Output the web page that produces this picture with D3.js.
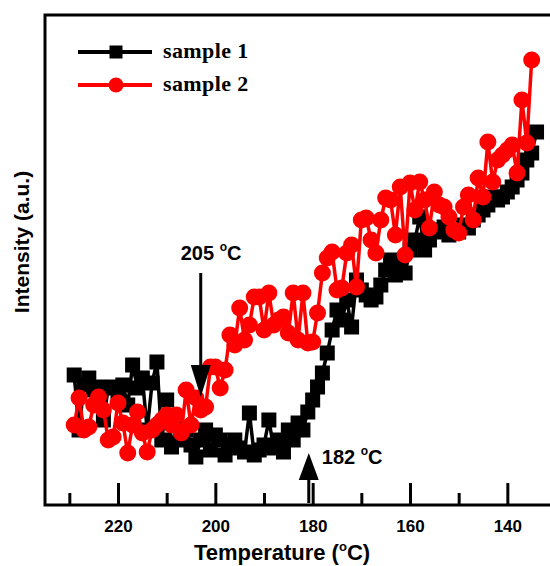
<!DOCTYPE html>
<html>
<head>
<meta charset="utf-8">
<script src="https://cdn.jsdelivr.net/npm/d3@7"></script>
<style>
body { margin: 0; background: #fff; }
text { font-family: Arial, "Liberation Sans", sans-serif; font-weight: bold; }
</style>
</head>
<body>
<script>
var width = 550,
    height = 566;

// temperature of each reading (deg C)
var temperature = [229, 228, 227, 226, 225, 224, 223, 222, 221, 220,
    219, 218, 217, 216, 215, 214, 213, 212, 211, 210,
    209, 208, 207, 206, 205, 204, 203, 202, 201, 200,
    199, 198, 197, 196, 195, 194, 193, 192, 191, 190,
    189, 188, 187, 186, 185, 184, 183, 182, 181, 180,
    179, 178, 177, 176, 175, 174, 173, 172, 171, 170,
    169, 168, 167, 166, 165, 164, 163, 162, 161, 160,
    159, 158, 157, 156, 155, 154, 153, 152, 151, 150,
    149, 148, 147, 146, 145, 144, 143, 142, 141, 140,
    139, 138, 137, 136, 135, 134];

var sample1 = [130, 75, 120, 127, 115, 118, 85, 117, 118, 113,
    120, 100, 140, 117, 127, 75, 122, 143, 65, 105,
    58, 80, 65, 75, 60, 48, 65, 75, 55, 70,
    65, 50, 60, 65, 57, 53, 92, 50, 55, 60,
    85, 57, 65, 53, 75, 65, 82, 75, 93, 105,
    118, 132, 152, 175, 195, 185, 205, 178, 225, 215,
    210, 205, 208, 220, 235, 245, 230, 240, 232, 255,
    265, 288, 255, 265, 273, 275, 278, 270, 275, 273,
    280, 277, 285, 290, 295, 300, 308, 305, 308, 313,
    318, 325, 332, 345, 352, 373];

var sample2 = [80, 107, 75, 78, 100, 108, 95, 65, 68, 102,
    82, 52, 80, 93, 72, 53, 75, 80, 85, 90,
    80, 90, 72, 115, 80, 107, 95, 98, 138, 138,
    117, 135, 170, 160, 197, 165, 180, 208, 208, 175,
    212, 180, 185, 188, 172, 212, 165, 212, 162, 163,
    192, 232, 247, 253, 215, 217, 252, 260, 218, 285,
    287, 265, 252, 285, 307, 305, 270, 318, 250, 322,
    295, 323, 305, 277, 313, 300, 298, 288, 275, 272,
    298, 310, 285, 327, 308, 363, 323, 345, 350, 355,
    360, 332, 405, 362, 445];

var majorTicks = [220, 200, 180, 160, 140],
    minorTicks = [230, 210, 190, 170, 150];

var seriesNames = ["sample 1", "sample 2"],
    seriesColors = ["#000000", "#ff0000"];

var x = d3.scaleLinear().domain([235, 130]).range([45, 556]);
var y = d3.scaleLinear().domain([0, 490]).range([505, 15]);

var svg = d3.select("body").append("svg")
    .attr("width", width)
    .attr("height", height);

function pts(values) {
    return values.map(function (v, i) { return {t: temperature[i], v: v}; });
}

var line = d3.line()
    .x(function (d) { return x(d.t); })
    .y(function (d) { return y(d.v); });

// series 1 : black squares
var s1 = pts(sample1);
svg.append("path")
    .datum(s1)
    .attr("d", line)
    .attr("fill", "none")
    .attr("stroke", seriesColors[0])
    .attr("stroke-width", 3.5);
svg.selectAll("rect.s1")
    .data(s1)
    .enter().append("rect")
    .attr("class", "s1")
    .attr("x", function (d) { return x(d.t) - 7.5; })
    .attr("y", function (d) { return y(d.v) - 7.5; })
    .attr("width", 15)
    .attr("height", 15)
    .attr("fill", seriesColors[0]);

// series 2 : red circles
var s2 = pts(sample2);
svg.append("path")
    .datum(s2)
    .attr("d", line)
    .attr("fill", "none")
    .attr("stroke", seriesColors[1])
    .attr("stroke-width", 3.5);
svg.selectAll("circle.s2")
    .data(s2)
    .enter().append("circle")
    .attr("class", "s2")
    .attr("cx", function (d) { return x(d.t); })
    .attr("cy", function (d) { return y(d.v); })
    .attr("r", 8.5)
    .attr("fill", seriesColors[1]);

// axes, ticks point inward
var major = svg.append("g")
    .attr("transform", "translate(0,505)")
    .call(d3.axisBottom(x).tickValues(majorTicks).tickSize(-22).tickPadding(15).tickFormat(d3.format("d")));
var minor = svg.append("g")
    .attr("transform", "translate(0,505)")
    .call(d3.axisBottom(x).tickValues(minorTicks).tickSize(-12).tickFormat(""));
svg.selectAll(".domain").remove();
svg.selectAll(".tick line").attr("stroke", "#000").attr("stroke-width", 3);
major.selectAll("text")
    .attr("fill", "#000")
    .style("font-size", "17px")
    .style("font-family", "Arial, 'Liberation Sans', sans-serif")
    .style("font-weight", "bold");

// frame
svg.append("rect")
    .attr("x", 45).attr("y", 15)
    .attr("width", 511).attr("height", 490)
    .attr("fill", "none")
    .attr("stroke", "#000")
    .attr("stroke-width", 3);

// axis titles
var xt = svg.append("text")
    .attr("x", 282).attr("y", 560)
    .attr("text-anchor", "middle")
    .style("font-size", "22px");
xt.append("tspan").text("Temperature (");
xt.append("tspan").attr("dy", -9).style("font-size", "13px").text("o");
xt.append("tspan").attr("dy", 9).text("C)");

svg.append("text")
    .attr("transform", "translate(29,242) rotate(-90)")
    .attr("text-anchor", "middle")
    .style("font-size", "21px")
    .text("Intensity (a.u.)");

// annotations
function degLabel(xp, yp, num) {
    var t = svg.append("text").attr("x", xp).attr("y", yp).style("font-size", "20px");
    t.append("tspan").text(num + " ");
    t.append("tspan").attr("dy", -9).style("font-size", "12px").text("o");
    t.append("tspan").attr("dy", 9).text("C");
}

var ax1 = x(203);
svg.append("line")
    .attr("x1", ax1).attr("x2", ax1)
    .attr("y1", y(232)).attr("y2", y(140))
    .attr("stroke", "#000").attr("stroke-width", 3);
svg.append("path")
    .attr("d", "M" + (ax1 - 10) + "," + y(140) + "L" + (ax1 + 10) + "," + y(140) + "L" + ax1 + "," + y(108) + "Z")
    .attr("fill", "#000");
degLabel(ax1 - 20, 260, "205");

var ax2 = x(180.8);
svg.append("line")
    .attr("x1", ax2).attr("x2", ax2)
    .attr("y1", y(2)).attr("y2", y(25))
    .attr("stroke", "#000").attr("stroke-width", 3);
svg.append("path")
    .attr("d", "M" + (ax2 - 10) + "," + y(25) + "L" + (ax2 + 10) + "," + y(25) + "L" + ax2 + "," + y(52) + "Z")
    .attr("fill", "#000");
degLabel(ax2 + 13, 464, "182");

// legend
var legend = svg.selectAll("g.legend")
    .data(seriesNames)
    .enter().append("g")
    .attr("class", "legend")
    .attr("transform", function (d, i) { return "translate(0," + (52 + i * 33) + ")"; });
legend.append("line")
    .attr("x1", 78).attr("x2", 152)
    .attr("stroke", function (d, i) { return seriesColors[i]; })
    .attr("stroke-width", 4);
legend.each(function (d, i) {
    var g = d3.select(this);
    if (i === 0) {
        g.append("rect").attr("x", 109.5).attr("y", -6.5).attr("width", 13).attr("height", 13).attr("fill", seriesColors[0]);
    } else {
        g.append("circle").attr("cx", 116).attr("r", 7.5).attr("fill", seriesColors[1]);
    }
});
legend.append("text")
    .attr("x", 163).attr("y", 6)
    .style("font-family", "'Liberation Serif', 'Times New Roman', serif")
    .style("font-size", "22px")
    .style("letter-spacing", "0.4px")
    .text(function (d) { return d; });
</script>
</body>
</html>
